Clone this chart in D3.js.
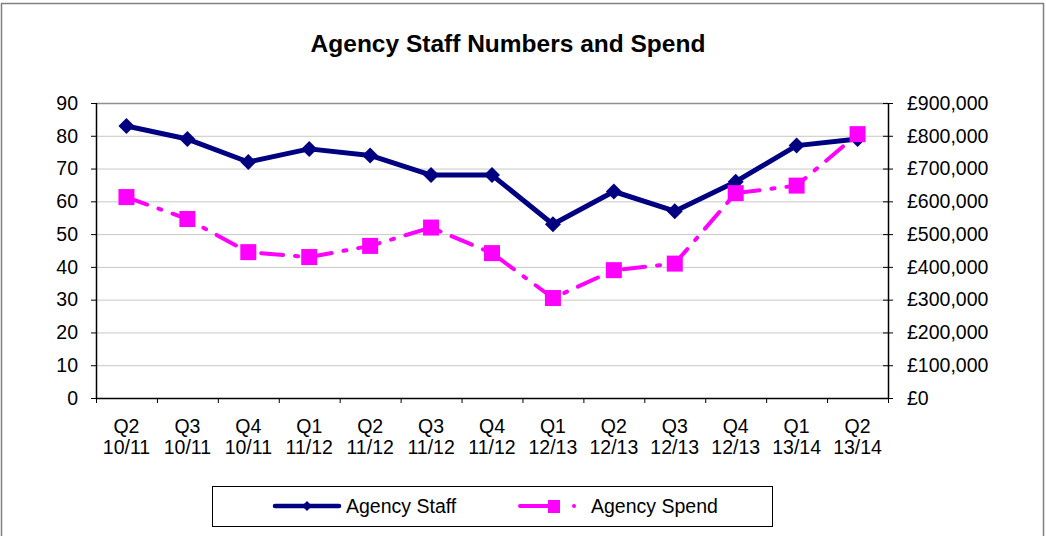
<!DOCTYPE html>
<html><head><meta charset="utf-8">
<script src="https://cdn.jsdelivr.net/npm/d3@7"></script>
<style>body{margin:0;background:#fff}svg{display:block;font-family:"Liberation Sans",Arial,sans-serif}</style>
</head><body>
<svg id="c" width="1046" height="536"></svg>
<script>
const quarters = ["Q2","Q3","Q4","Q1","Q2","Q3","Q4","Q1","Q2","Q3","Q4","Q1","Q2"];
const years = ["10/11","10/11","10/11","11/12","11/12","11/12","11/12","12/13","12/13","12/13","12/13","13/14","13/14"];
const agencyStaff = [83,79,72,76,74,68,68,53,63,57,66,77,79];
const agencySpend = [613000,546000,445000,430000,464000,520000,442000,305000,390000,410000,625000,648000,805000];
const leftTicks = [0,10,20,30,40,50,60,70,80,90];
const rightTicks = [0,100000,200000,300000,400000,500000,600000,700000,800000,900000];

const svg = d3.select("#c");
const W=1046,H=536;
const m={l:96,r:888,t:103,b:398};
const idx = quarters.map((d,i)=>i);
const FS = 19.5;

svg.append("rect").attr("x",1.5).attr("y",3.5).attr("width",W-4).attr("height",H).attr("fill","#fff").attr("stroke","#808080").attr("stroke-width",1.5);

svg.append("text").attr("x",508).attr("y",52).attr("text-anchor","middle")
  .attr("font-size",24.5).attr("font-weight","bold").text("Agency Staff Numbers and Spend");

const x = d3.scaleBand().domain(idx).range([m.l,m.r]);
const yL = d3.scaleLinear().domain([0,90]).range([m.b,m.t]);
const yR = d3.scaleLinear().domain([0,900000]).range([m.b,m.t]);

svg.append("g").selectAll("line").data(leftTicks.slice(1,-1)).join("line")
  .attr("x1",m.l).attr("x2",m.r).attr("y1",d=>yL(d)+0.5).attr("y2",d=>yL(d)+0.5)
  .attr("stroke","#c8c8c8").attr("stroke-width",1);
svg.append("line").attr("x1",m.l).attr("x2",m.r).attr("y1",m.t+0.5).attr("y2",m.t+0.5).attr("stroke","#909090").attr("stroke-width",1.5);

const gL = svg.append("g").attr("transform",`translate(${m.l},0)`)
  .call(d3.axisLeft(yL).tickValues(leftTicks).tickSize(5).tickPadding(13).tickFormat(d3.format("d")));
const gR = svg.append("g").attr("transform",`translate(${m.r},0)`)
  .call(d3.axisRight(yR).tickValues(rightTicks).tickSize(5).tickPadding(14).tickFormat(d=>"£"+d3.format(",")(d)));
gR.selectAll(".tick line").attr("x1",-5);
const xb = d3.scaleLinear().domain([0,13]).range([m.l,m.r]);
const gB = svg.append("g").attr("transform",`translate(0,${m.b})`)
  .call(d3.axisBottom(xb).tickValues(d3.range(0,14)).tickSize(5).tickFormat(""));
[gL,gR,gB].forEach(g=>{
  g.selectAll(".domain").attr("stroke","#000").attr("stroke-width",1.5);
  g.selectAll(".tick line").attr("stroke","#000");
  g.selectAll("text").attr("font-size",FS).attr("fill","#000").attr("font-family","'Liberation Sans',Arial,sans-serif");
});
gL.select(".domain").attr("d",`M0.5,${m.t}V${m.b}`);
gR.select(".domain").attr("d",`M0.5,${m.t}V${m.b}`);
gB.select(".domain").attr("d",`M${m.l},0.5H${m.r}`);

const xl = svg.append("g").selectAll("text").data(idx).join("text")
  .attr("x",d=>x(d)+x.bandwidth()/2).attr("text-anchor","middle").attr("font-size",FS);
xl.append("tspan").attr("x",d=>x(d)+x.bandwidth()/2).attr("y",433).text(d=>quarters[d]);
xl.append("tspan").attr("x",d=>x(d)+x.bandwidth()/2).attr("y",454).text(d=>years[d]);

const cx = i=>x(i)+x.bandwidth()/2;
const pink="#ff00ff", navy="#000080";
const dash="22,12,3,12";

svg.append("path").datum(agencySpend).attr("fill","none").attr("stroke",pink).attr("stroke-width",4)
  .attr("stroke-dasharray",dash).attr("stroke-linecap","round")
  .attr("d",d3.line().x((d,i)=>cx(i)).y(d=>yR(d)));
svg.append("path").datum(agencyStaff).attr("fill","none").attr("stroke",navy).attr("stroke-width",5)
  .attr("stroke-linejoin","round")
  .attr("d",d3.line().x((d,i)=>cx(i)).y(d=>yL(d)));
svg.append("g").selectAll("path").data(agencyStaff).join("path")
  .attr("transform",(d,i)=>`translate(${cx(i)},${yL(d)})`)
  .attr("d","M0,-8L8,0L0,8L-8,0Z").attr("fill",navy);
svg.append("g").selectAll("rect").data(agencySpend).join("rect")
  .attr("x",(d,i)=>cx(i)-8).attr("y",d=>yR(d)-8).attr("width",16).attr("height",16).attr("fill",pink);

const lg = svg.append("g");
lg.append("rect").attr("x",212.5).attr("y",486.5).attr("width",560).attr("height",40).attr("fill","#fff").attr("stroke","#000").attr("stroke-width",1);
lg.append("line").attr("x1",275).attr("x2",339).attr("y1",506).attr("y2",506).attr("stroke",navy).attr("stroke-width",4.5).attr("stroke-linecap","round");
lg.append("path").attr("transform","translate(307,506)").attr("d","M0,-5L5,0L0,5L-5,0Z").attr("fill",navy);
lg.append("text").attr("x",346).attr("y",513).attr("font-size",FS).text("Agency Staff");
lg.append("line").attr("x1",520).attr("x2",550).attr("y1",506).attr("y2",506).attr("stroke",pink).attr("stroke-width",4).attr("stroke-linecap","round");
lg.append("rect").attr("x",548).attr("y",500).attr("width",12).attr("height",13).attr("fill",pink);
lg.append("circle").attr("cx",574).attr("cy",506).attr("r",2).attr("fill",pink);
lg.append("text").attr("x",591).attr("y",513).attr("font-size",FS).text("Agency Spend");
</script>
</body></html>
